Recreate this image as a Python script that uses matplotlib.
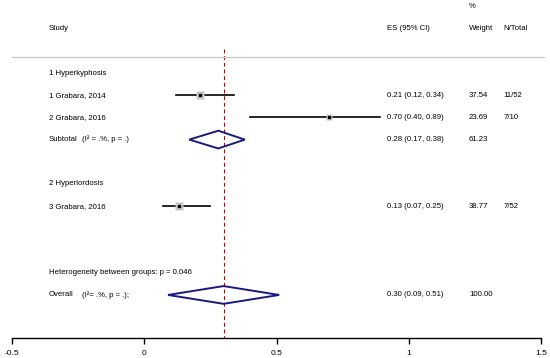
import matplotlib.pyplot as plt
from matplotlib.patches import Polygon

plt.rcParams['font.family'] = ['Liberation Sans', 'DejaVu Sans']

# study rows
studies = ["1 Grabara, 2014", "2 Grabara, 2016", "3 Grabara, 2016"]
study_rows = [2, 3, 7]
es = [0.21, 0.70, 0.13]
lo = [0.12, 0.40, 0.07]
hi = [0.34, 0.89, 0.25]
weights = [37.54, 23.69, 38.77]
ntotal = ["11/52", "7/10", "7/52"]
es_labels = ["0.21 (0.12, 0.34)", "0.70 (0.40, 0.89)", "0.13 (0.07, 0.25)"]

# pooled rows
pooled_names = ["Subtotal", "Overall"]
pooled_het = ["(I\u00b2 = .%, p = .)", "(I\u00b2= .%, p = .);"]
pooled_rows = [4, 11]
pooled_es = [0.28, 0.30]
pooled_lo = [0.17, 0.09]
pooled_hi = [0.38, 0.51]
pooled_labels = ["0.28 (0.17, 0.38)", "0.30 (0.09, 0.51)"]
pooled_weights = ["61.23", "100.00"]

groups = ["1 Hyperkyphosis", "2 Hyperlordosis"]
group_rows = [1, 6]
het_text = "Heterogeneity between groups: p = 0.046"
het_row = 10

xticks = [-0.5, 0, 0.5, 1, 1.5]
xtick_labels = ["-0.5", "0", "0.5", "1", "1.5"]

fig = plt.figure(figsize=(5.5, 3.58), dpi=100)
ax = fig.add_axes([12 / 550, 20 / 358, 529 / 550, 338 / 358])
ax.set_xlim(-0.5, 1.5)
ax.set_ylim(12.94, -2.29)

fs = 5.6
x_study = -0.36
x_es = 0.918
x_w = 1.228
x_n = 1.357

# header
ax.text(x_study, -1, "Study", fontsize=fs, va="center")
ax.text(x_es, -1, "ES (95% CI)", fontsize=fs, va="center")
ax.text(x_w, -1, "Weight", fontsize=fs, va="center")
ax.text(x_w, -2, "%", fontsize=fs, va="center")
ax.text(x_n, -1, "N/Total", fontsize=fs, va="center")
ax.plot([-0.5, 1.51], [0.28, 0.28], color="#c8c8c8", lw=0.9, clip_on=False)

# overall effect line
ax.plot([pooled_es[1], pooled_es[1]], [-0.1, 12.94], color="#c00000",
        lw=0.8, ls=(0, (3.5, 2.5)), zorder=1)

for g, r in zip(groups, group_rows):
    ax.text(x_study, r, g, fontsize=fs, va="center")

for name, r, e, l, h, w, n, lab in zip(studies, study_rows, es, lo, hi,
                                       weights, ntotal, es_labels):
    ax.text(x_study, r, name, fontsize=fs, va="center")
    ax.plot([l, h], [r, r], color="black", lw=1.2, zorder=2)
    ax.plot(e, r, marker="s", ms=(w ** 0.5) * 0.85, color="#c4c4c4",
            mec="none", zorder=3)
    ax.plot(e, r, marker="s", ms=1.5, color="black", zorder=4)
    ax.text(x_es, r, lab, fontsize=fs, va="center")
    ax.text(x_w, r, "%.2f" % w, fontsize=fs, va="center")
    ax.text(x_n, r, n, fontsize=fs, va="center")

for name, het, r, e, l, h, lab, w in zip(pooled_names, pooled_het, pooled_rows,
                                         pooled_es, pooled_lo, pooled_hi,
                                         pooled_labels, pooled_weights):
    ax.text(x_study, r, name, fontsize=fs, va="center")
    ax.text(-0.235, r, het, fontsize=fs, va="center")
    d = Polygon([[l, r], [e, r - 0.4], [h, r], [e, r + 0.4]], closed=True,
                fill=False, edgecolor="#1a1a80", lw=1.4, zorder=3)
    ax.add_patch(d)
    ax.text(x_es, r, lab, fontsize=fs, va="center")
    ax.text(x_w, r, w, fontsize=fs, va="center")

ax.text(x_study, het_row, het_text, fontsize=fs, va="center")

# x axis
for s in ["top", "right", "left"]:
    ax.spines[s].set_visible(False)
ax.spines["bottom"].set_linewidth(1.0)
ax.set_yticks([])
ax.set_xticks(xticks)
ax.set_xticklabels(xtick_labels, fontsize=6)
ax.tick_params(axis="x", direction="out", length=4.5, width=1.0, pad=4)

fig.savefig("out.png", dpi=100)
